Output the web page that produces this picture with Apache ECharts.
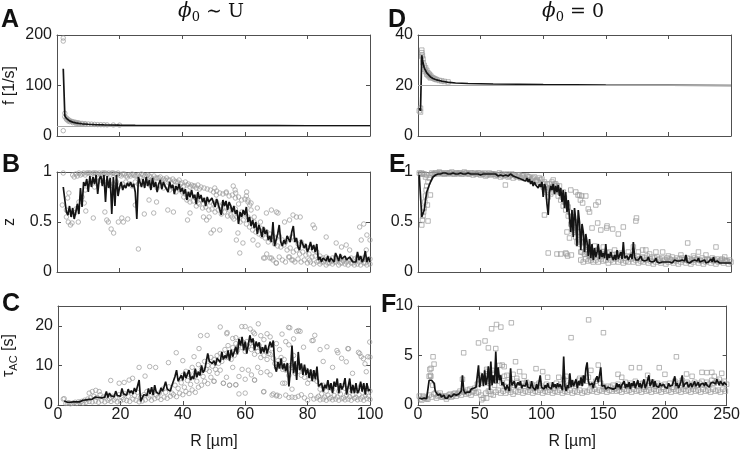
<!DOCTYPE html>
<html><head><meta charset="utf-8">
<script src="https://cdn.jsdelivr.net/npm/echarts/dist/echarts.min.js"></script>
<style>html,body{margin:0;padding:0;background:#fff}#c{width:743px;height:451px}</style>
</head><body><div id="c"></div>
<script>
// ---------------- DATA ----------------
// Panel A: f [1/s] vs R (phi0 ~ U)
const aLine = [[2,133],[2.5,40],[3,35],[3.5,32],[4,30],[5,27.5],[6,26],[7,25],[8,24.2],[10,23.3],[12,22.6],[15,22],[20,21.4],[25,21],[30,20.8],[40,20.6],[50,20.5],[60,20.4],[70,20.4],[80,20.3],[90,20.3],[100,20.3]];
const aScatter = [[2,194],[2,188],[2,10.5],[2.5,45],[2.5,38],[3,36],[3,33],[3.5,33],[3.5,30],[4,31],[4,28.5],[4.5,29],[5,28.5],[5,26.5],[5.5,27.5],[6,27],[6,25],[6.5,26],[7,26],[7,24.5],[8,25],[8,23.5],[9,24.5],[9,23],[10,23.8],[11,23.5],[12,23],[13,22.5],[14,22.4],[15,22.3],[16,22],[18,21.8],[20,21.5]];
// Panel D: f [1/s] vs R (phi0 = 0)
const dLine = [[1,11],[2,10],[3,32],[4,29],[5,27],[6,26],[7,25],[8,24.3],[10,23.4],[12,22.8],[15,22.2],[20,21.6],[25,21.2],[30,21],[40,20.8],[60,20.6],[80,20.5],[100,20.4],[150,20.2],[200,20.1],[250,20]];
const dScatter = [[1,10],[2,9.5],[2,11],[3,34],[3,33],[3,31.5],[3.5,32],[4,30.5],[4,29],[5,28],[5,26.5],[6,27],[6,25.5],[7,26],[7,24.5],[8,25],[8,24],[9,24.5],[9,23.5],[10,24],[10,23],[11,23.3],[12,23],[13,22.7],[14,22.5],[15,22.3],[17,22],[19,21.8],[21,21.6],[24,21.4]];
const fRef = 20;

// Panel B: z vs R, line sampled from R=2 step 0.5
const bLine = [0.85,0.72,0.6,0.57,0.66,0.55,0.64,0.53,0.6,0.68,
0.58,0.84,0.65,0.9,0.86,0.93,0.8,0.96,0.85,0.95,
0.88,0.97,0.78,0.93,0.96,0.86,0.97,0.7,0.96,0.84,
0.94,0.58,0.95,0.66,0.97,0.76,0.85,0.9,0.82,0.87,
0.84,0.89,0.86,0.9,0.85,0.88,0.8,0.53,0.95,0.97,
0.85,0.93,0.84,0.95,0.86,0.92,0.82,0.94,0.85,0.9,
0.8,0.88,0.92,0.83,0.9,0.86,0.88,0.8,0.9,0.84,
0.87,0.78,0.86,0.82,0.88,0.8,0.84,0.78,0.83,0.72,
0.8,0.75,0.82,0.74,0.77,0.68,0.8,0.73,0.77,0.7,
0.74,0.66,0.75,0.7,0.68,0.74,0.72,0.65,0.73,0.68,
0.7,0.57,0.72,0.66,0.71,0.62,0.7,0.66,0.6,0.66,
0.58,0.62,0.48,0.6,0.55,0.62,0.57,0.65,0.5,0.55,
0.46,0.52,0.44,0.5,0.38,0.47,0.42,0.35,0.45,0.38,
0.42,0.32,0.36,0.3,0.5,0.26,0.27,0.38,0.47,0.3,
0.26,0.32,0.28,0.36,0.34,0.3,0.4,0.46,0.3,0.34,
0.25,0.22,0.32,0.3,0.24,0.28,0.2,0.24,0.3,0.22,
0.27,0.2,0.28,0.12,0.15,0.1,0.14,0.12,0.11,0.16,
0.1,0.14,0.12,0.1,0.19,0.15,0.11,0.18,0.13,0.11,
0.16,0.12,0.1,0.15,0.17,0.1,0.12,0.1,0.2,0.12,
0.16,0.1,0.13,0.21,0.1,0.15,0.1];
const bTop = [0.97,0.98,0.99,0.98,0.97,0.99,0.98,0.99,0.98,0.97,
0.99,0.98,0.97,0.99,0.98,0.97,0.98,0.96,0.97,0.98,
0.96,0.97,0.98,0.96,0.97,0.95,0.96,0.94,0.95,0.93,
0.94,0.92,0.93,0.9,0.92,0.89,0.9,0.88,0.87,0.86,
0.87,0.85,0.84,0.83,0.82,0.8,0.81,0.79,0.78,0.79,
0.76,0.77,0.74,0.75,0.72,0.73,0.7,0.69]; // R=5..62
const bTop2 = [0.95,0.96,0.97,0.99,0.99,0.99,0.99,0.99,0.99,0.99,
0.99,0.99,0.99,0.98,0.99,0.96,0.98,0.95,0.96,0.97,
0.96,0.95,0.97,0.96,0.96,0.93,0.94,0.94,0.91,0.92,
0.92,0.89,0.91,0.9,0.88,0.86,0.87,0.85,0.86,0.84,0.83]; // R=5.5..45.5
const bMid = [0.62,0.6,0.58,0.63,0.7,0.75,0.82,0.88,0.9,0.85,
0.9,0.92,0.88,0.9,0.86,0.88,0.9,0.86,0.88,0.9,
0.88,0.86,0.9,0.88,0.9,0.88,0.9,0.86,0.88,0.84,
0.87,0.84,0.86,0.82,0.84,0.8,0.83,0.8,0.78,0.78,
0.76,0.75,0.76,0.72,0.72,0.7,0.7,0.68,0.7,0.66,
0.68,0.65,0.66,0.62,0.63,0.58,0.6,0.58,0.55,0.52,
0.5,0.46,0.44,0.42,0.4,0.38,0.36,0.34,0.36,0.32,
0.3,0.33,0.35,0.32,0.28,0.3,0.26,0.24,0.25,0.22,
0.2,0.16,0.14,0.15,0.13,0.14,0.15,0.13,0.14,0.13,
0.12,0.14,0.13,0.15,0.13,0.14,0.12,0.13]; // R=3..100
const bMid2 = [0.75,0.72,0.7,0.71,0.66,0.68,0.64,0.65,0.62,0.63,
0.6,0.62,0.58,0.6,0.56,0.57,0.53,0.55,0.5,0.52,
0.48,0.45,0.42,0.4,0.38,0.36,0.34,0.3,0.32,0.28,
0.26,0.25,0.27,0.22,0.24,0.2,0.22,0.18,0.2,0.17,
0.18,0.15,0.16,0.11,0.1,0.12,0.09,0.11,0.1,0.12,
0.09,0.11,0.1,0.12,0.09,0.11,0.1,0.12,0.09,0.11]; // R=40.5..99.5
const bBottom = [0.14,0.18,0.14,0.12,0.09,0.15,0.12,0.1,0.15,0.12,
0.1,0.13,0.1,0.12,0.09,0.1,0.08,0.1,0.08,0.1,
0.07,0.09,0.08,0.1,0.07,0.09,0.08,0.07,0.09,0.07,
0.08,0.07,0.09,0.07,0.08]; // R=66..100
const bOut = [[2,0.99],[1.7,0.67],[3.8,0.79],[3.4,0.74],[3,0.55],[3.6,0.5],[4.3,0.47],[4.8,0.49],[6.8,0.5],[5.7,0.59],[8.7,0.69],[9.2,0.61],[11.6,0.54],[15.3,0.6],[15.9,0.52],[16.4,0.5],[17.3,0.43],[18.1,0.39],[19.6,0.5],[20.7,0.54],[21.2,0.5],[22.6,0.53],[25,0.67],[26,0.23],[27.9,0.58],[29.4,0.72],[30.9,0.59],[31.8,0.7],[35.4,0.62],[37.2,0.6],[41.7,0.52],[42.5,0.59],[45.2,0.69],[46.8,0.55],[47.8,0.52],[48.6,0.55],[49.2,0.39],[50,0.42],[50.4,0.84],[50.9,0.77],[52,0.42],[52.5,0.62],[54.1,0.8],[57.1,0.79],[60.5,0.76],[61,0.72],[61.6,0.67],[57.8,0.39],[57.3,0.32],[59.4,0.29],[58.4,0.19],[62.6,0.32],[64.2,0.27],[66.9,0.59],[68.5,0.62],[70.1,0.6],[70.6,0.59],[72.7,0.5],[74.3,0.52],[75.4,0.57],[76.5,0.55],[77.7,0.55],[81.8,0.47],[82.3,0.44],[86,0.35],[66.4,0.14],[68.5,0.14],[70.1,0.09],[74.3,0.15],[75.4,0.12],[80.7,0.12],[89.2,0.29],[90.9,0.25],[92.4,0.27],[93.5,0.22],[96.7,0.45],[97.2,0.32],[98.8,0.22],[98,0.48],[99,0.37],[100,0.32],[55,0.62],[56,0.55],[63,0.55],[65,0.5],[64,0.64],[58,0.68],[62,0.62],[56.3,0.86],[56.9,0.82],[60.6,0.8]];

// Panel C: tau_AC [s] vs R, line sampled from R=2 step 0.5
const cLine = [1.0,0.6,0.7,0.6,0.7,0.7,0.8,0.7,0.8,0.9,
0.8,1.0,1.2,1.4,1.3,1.5,1.4,1.7,1.5,1.6,
2.0,1.6,1.9,2.4,1.8,2.2,2.0,3.4,1.9,3.0,
2.3,2.8,2.1,3.5,2.4,2.9,2.2,4.2,2.8,3.2,
2.5,4.0,3.0,3.6,2.8,4.3,3.3,3.8,6.3,0.9,
1.8,2.6,3.0,2.4,4.2,2.8,4.5,2.5,5.0,3.2,
3.6,2.8,4.3,3.5,4.6,5.9,4.0,4.3,3.5,4.9,
4.5,7.2,8.8,6.0,5.5,7.5,6.2,8.4,6.8,7.0,
8.8,6.3,7.2,6.6,9.2,7.0,8.4,7.5,10.0,8.2,
8.8,10.9,13.0,11.0,10.6,10.5,11.2,10.0,11.8,12.2,
10.8,13.4,11.5,12.5,11.8,13.8,11.2,14.0,12.2,13.5,
14.7,12.8,16.7,15.0,17.2,13.8,16.0,13.0,15.2,17.6,
15.8,16.8,13.8,16.0,14.8,15.8,13.0,14.6,13.3,15.2,
13.0,14.5,16.0,14.6,16.3,9.7,8.4,10.9,9.2,11.8,
9.0,10.5,8.5,10.6,4.7,8.8,15.0,8.0,11.0,6.3,
13.4,8.8,10.5,7.6,10.2,7.6,9.2,6.8,9.0,6.0,
8.8,6.5,9.7,4.7,4.2,5.5,3.4,5.1,4.2,6.3,
3.8,5.5,3.0,5.9,4.6,6.7,3.0,5.5,3.9,5.0,
6.8,2.6,4.6,6.7,3.0,5.1,3.0,5.5,3.0,3.8,
5.9,3.4,5.5,2.6,5.5,3.5,4.0];
const cLow = [1.6,0.5,0.3,0.5,0.4,0.6,0.5,0.7,0.9,0.8,
1.0,0.7,1.1,0.8,1.2,0.9,1.3,0.8,1.0,1.4,
1.1,0.9,1.5,1.2,0.8,1.0,1.3,1.8,1.2,1.6,
1.9,1.4,2.0,1.7,2.2,2.6,2.1,3.0,2.6,3.4,
2.9,3.8,3.2,4.5,5.0,6.0,5.4,7.0,6.0,8.0,
8.8,5.5,7.0,5.0,9.5,5.1,7.2,9.0,6.5,8.8,
7.6,6.3,9.5,8.2,3.4,8.4,7.6,2.8,2.3,2.2,
5.5,2.5,1.9,2.0,1.9,2.2,2.6,1.8,1.2,2.4,
1.5,1.8,1.3,1.5,1.2,1.6,1.3,1.5,1.2,1.6,
1.3,1.5,1.2,1.7,1.3,1.5,1.2,1.6,1.4]; // R=2..100
const cLow2 = [0.4,0.6,0.4,0.7,0.8,0.9,1.2,1.5,1.8,2.2,
1.9,2.6,2.0,2.4,1.6,2.2,1.8,2.6,1.9,2.8,
2.2,3.0,2.4,3.2,1.9,2.6,3.4,2.3,3.8,2.5,
3.0,4.0,3.2,4.6,3.0,5.0,4.2,5.6,4.5,6.2,
5.2,7.0,6.0,8.0,7.2,9.0,8.5,9.8,9.0,10.5,
11.0,14.0,15.0,11.5,12.5,13.8,16.5,15.8,16.0,15.5,
15.8,14.5,15.0,14.0,13.8,13.0,14.2,10.5,11.2,12.0,
11.5,9.8,10.0,12.5,10.5,9.8,9.0,8.8,6.5,7.2,
8.0,2.2,2.8,2.0,2.5,1.9,2.4,2.0,2.8,1.8,
2.6,2.1,2.5,1.9,2.6,2.0,2.4,2.2]; // R=2.5..99.5
const cMid = [7.5,8.5,7.8,9.5,8.2,10.2,9.0,11.0,10.0,12.0,
11.5,12.5,13.0,12.8,12.0,13.2,14.5,15.5,15.0,14.5,
13.5,14.8,14.0,12.8,13.5,12.0,12.5,11.5,12.8,11.8,
9.5,10.0,9.0,8.8,7.5,9.5,8.0,8.5,7.5,7.0,
7.8,8.2,6.5,6.0,4.0,5.0,3.5,4.5,4.0,5.2,
3.5,4.8,4.2,3.8,4.5,4.0,3.6,4.8,3.8,4.2,3.5]; // R=40..100
const cOut = [[52,19.7],[54.1,18],[58.9,19.8],[60,19.8],[64.2,20.5],[62.6,18.4],[61.6,19.2],[74.3,19.5],[76.5,18.6],[77.6,18.6],[82.3,17.6],[81.8,16.3],[86.2,14.7],[92.9,14.25],[89.7,13.2],[96.7,13],[99.3,12.2],[99.9,15.9],[90.9,11.8],[92.4,10.9],[94.4,8],[98.8,8.4],[97.2,12.2],[47.8,17.6],[45.2,14.25],[45.7,17.5],[54.2,18.3],[37.9,13.2],[35.4,10.7],[43.6,12.2],[40,11.2],[29.4,9.7],[31.3,9.5],[26,9.5],[27.9,7.3],[19.6,5.5],[21.2,5.7],[22.8,6.3],[23.9,6.75],[16.9,6.2],[10,3],[11,3.4],[12.1,3.7],[13.2,3.4],[1.7,1.5],[73.9,19.6],[77.1,18.8],[71.8,17.9],[75.5,16.7],[78.7,14.6],[81.4,16.25],[89.4,13.75],[93.1,14.2],[96.3,13.3],[97.9,11.7],[98.4,10.4],[100,12.1],[65.9,3.3],[68.6,2.5],[70.2,2.5],[56,16.8],[57,17.0],[63,18.0],[65,17.5],[66,16.5],[67,18.0],[68,17.2],[70,15.5],[71,14.0],[73,16.0],[74,15.2],[84,14.0],[85,11.0],[88,9.5],[50,6.0],[53,5.5],[55,5.0],[57,5.1],[63,6.3],[72.7,5.5],[60,3.0],[58,2.8],[75,4.0],[80,5.5]];

// Panel E: z vs R, line sampled from R=1 step 1
const eLine = [0.97,0.95,0.55,0.53,0.62,0.72,0.8,0.78,0.87,0.9,
0.92,0.95,0.96,0.97,0.98,0.98,0.99,0.98,0.98,0.99,
0.98,0.99,0.98,0.98,0.99,0.98,0.98,0.99,0.98,0.98,
0.99,0.98,0.98,0.99,0.98,0.98,0.99,0.98,0.98,0.99,
0.98,0.98,0.99,0.98,0.97,0.98,0.99,0.98,0.98,0.97,
0.98,0.98,0.97,0.98,0.99,0.98,0.97,0.98,0.97,0.98,
0.97,0.98,0.97,0.96,0.98,0.97,0.97,0.96,0.98,0.97,
0.97,0.96,0.97,0.98,0.96,0.96,0.97,0.95,0.96,0.94,
0.96,0.93,0.95,0.92,0.94,0.91,0.94,0.9,0.93,0.88,
0.91,0.86,0.9,0.87,0.89,0.84,0.88,0.85,0.9,0.75,
0.88,0.85,0.68,0.57,0.8,0.86,0.82,0.88,0.78,0.86,
0.8,0.87,0.76,0.84,0.7,0.82,0.64,0.8,0.6,0.72,
0.54,0.4,0.62,0.35,0.64,0.52,0.26,0.62,0.5,0.22,
0.48,0.4,0.2,0.38,0.3,0.16,0.33,0.14,0.28,0.12,
0.24,0.15,0.2,0.28,0.13,0.22,0.15,0.19,0.14,0.28,
0.12,0.18,0.14,0.2,0.15,0.12,0.17,0.12,0.22,0.13,
0.15,0.2,0.13,0.3,0.14,0.12,0.16,0.12,0.14,0.18,
0.13,0.3,0.15,0.12,0.14,0.12,0.13,0.16,0.12,0.14,
0.11,0.13,0.12,0.15,0.11,0.13,0.1,0.12,0.11,0.14,
0.1,0.12,0.09,0.11,0.1,0.12,0.1,0.11,0.1,0.12,
0.1,0.11,0.09,0.1,0.12,0.1,0.11,0.09,0.11,0.1,
0.12,0.1,0.11,0.17,0.1,0.11,0.09,0.1,0.11,0.1,
0.12,0.1,0.11,0.14,0.1,0.09,0.11,0.1,0.12,0.09,
0.11,0.1,0.12,0.13,0.1,0.15,0.1,0.09,0.11,0.1,
0.09,0.1,0.09,0.1,0.09,0.1,0.09,0.08,0.09,0.09];
const eTop = [0.97,0.98,0.99,0.98,0.99,0.98,0.99,0.98,0.99,0.98,
0.99,0.98,0.99,0.98,0.99,0.98,0.99,0.97,0.98,0.99,
0.97,0.98,0.96,0.98,0.97,0.98,0.96,0.97,0.95,0.96,
0.97,0.95,0.97,0.94,0.96,0.97,0.94,0.96,0.93,0.95,
0.92,0.94,0.91,0.9,0.92,0.88]; // R=10..100 step 2
const eTop2 = [0.99,0.98,0.99,1.0,0.99,0.98,0.99,0.99,1.0,0.98,
0.99,0.99,0.98,1.0,0.99,0.98,0.99,0.99,0.98,0.99,
0.98,0.99,0.97,0.99,0.98,0.98,0.97,0.99,0.98,0.97,
0.98,0.96,0.98,0.97,0.95,0.97,0.96,0.94,0.96,0.95,
0.93,0.95,0.92,0.94,0.93]; // R=11..99 step 2
const eBottom = [0.12,0.1,0.13,0.11,0.12,0.1,0.12,0.1,0.13,0.11,
0.12,0.09,0.12,0.1,0.13,0.1,0.12,0.09,0.11,0.1,
0.13,0.1,0.12,0.09,0.11,0.1,0.12,0.09,0.11,0.08,
0.1,0.12,0.09,0.11,0.08,0.1,0.12,0.09,0.11,0.08,
0.1,0.12,0.09,0.11,0.08,0.1,0.12,0.09,0.11,0.08,
0.1,0.12,0.09,0.11,0.08,0.1,0.12,0.09,0.11,0.08,0.1]; // R=130..250 step 2
const eBottom2 = [0.2,0.18,0.22,0.16,0.19,0.17,0.21,0.15,0.18,0.16,
0.19,0.15,0.17,0.14,0.18,0.15,0.17,0.14,0.16,0.15,
0.17,0.14,0.16,0.13,0.15,0.14,0.16,0.13,0.15,0.14,
0.15,0.13,0.14,0.12,0.14,0.13,0.15,0.12,0.14,0.13,
0.14,0.12,0.14,0.13,0.12,0.14,0.13,0.12,0.14,0.12,
0.13,0.12,0.14,0.12,0.13,0.11,0.13,0.12,0.11,0.12]; // R=131..249 step 2
const eOut = [[1,0.99],[2,0.98],[3,0.47],[3.5,0.52],[4,0.56],[4.5,0.6],[5,0.64],[5.5,0.7],[6,0.76],[6.5,0.82],[7,0.86],[7.5,0.67],[8,0.51],[8,0.9],[9,0.94],[9.9,0.77],[6,0.95],[7,0.97],[5,0.98],[3,0.99],[4,0.98],[69.8,0.87],
[101,0.57],[102,0.85],[103,0.82],[104,0.19],[105,0.88],[106,0.84],[107,0.9],[108,0.92],[109,0.86],[110,0.88],[111,0.18],[112,0.82],[113,0.86],[114,0.18],[115,0.75],[116,0.8],[117,0.7],[118,0.19],[118.5,0.18],[119,0.4],[119.5,0.16],[120,0.65],[121,0.34],[122,0.82],[122.5,0.17],[123,0.5],[124,0.42],[125,0.44],[126,0.8],[127,0.3],[127.8,0.77],[128,0.32],[129,0.77],[129.7,0.72],[130,0.2],[130.8,0.76],[131.5,0.69],[132,0.3],[133,0.18],[134,0.76],[135,0.25],[136,0.63],[137,0.6],[138,0.16],[139,0.44],[140,0.2],[142,0.67],[143.5,0.49],[144,0.7],[146,0.42],[147,0.2],[149,0.18],[150.7,0.44],[151,0.46],[155.5,0.43],[160,0.38],[164,0.45],[174,0.51],[174.5,0.54],[179.4,0.22],[182,0.22],[190,0.2],[195.4,0.2],[215.4,0.29],[224,0.2],[238,0.25],
[100,0.85],[101,0.9],[102,0.8],[103,0.88],[104,0.75],[105,0.84],[106,0.78],[107,0.85],[108,0.8],[109,0.88],[110,0.82],[111,0.86],[112,0.76],[113,0.8],[114,0.72],[115,0.78],[116,0.66],[117,0.74],[118,0.62],[119,0.68],[120,0.56],[121,0.6],[122,0.48],[123,0.55],[124,0.4],[125,0.5],[126,0.35],[127,0.45],[128,0.28],[129,0.4],[130,0.3],[131,0.35],[132,0.24],[133,0.3],[134,0.22],[135,0.2],[136,0.18],[137,0.16],[138,0.2],[139,0.14],[140,0.16],
[141,0.26],[143,0.22],[145,0.2],[148,0.25],[153,0.2],[157,0.22],[162,0.19],[168,0.2],[172,0.25],[176,0.2],[185,0.18],[200,0.16],[210,0.17],[220,0.16],[230,0.17],[245,0.15]];

// Panel F: tau_AC [s] vs R, line sampled from R=1 step 1
const fLine = [0.7,0.75,0.6,0.8,0.7,0.55,0.65,0.5,2.5,2.6,
2.5,2.3,2.2,1.4,1.2,1.0,0.9,1.1,0.8,0.9,
1.0,0.7,0.8,0.7,1.0,0.9,0.8,1.0,1.1,0.9,
1.0,1.2,1.1,1.3,1.4,3.0,1.5,1.2,1.4,1.3,
1.5,1.3,1.6,1.4,1.7,1.5,1.8,1.9,4.0,1.8,
2.6,3.2,1.9,3.5,2.0,2.7,3.9,1.5,4.4,2.0,
3.0,2.2,5.4,2.2,3.8,2.5,3.0,2.0,2.3,1.8,
1.5,2.0,1.8,1.4,3.7,2.0,1.9,2.4,1.7,2.0,
2.3,2.0,2.4,1.7,2.0,2.2,1.9,2.5,1.8,2.0,
1.7,2.4,1.8,2.0,1.5,2.1,1.6,2.3,3.0,1.8,
1.9,1.6,2.0,1.7,2.2,1.8,2.0,1.6,2.3,1.8,
2.1,1.7,2.2,1.8,2.1,1.9,1.5,4.9,1.9,1.4,
2.0,1.7,3.2,1.8,2.5,1.9,2.1,2.6,1.7,2.4,
2.0,2.8,1.9,3.0,2.2,3.7,4.3,2.4,2.0,1.9,
2.2,1.7,2.3,2.6,2.9,2.3,3.0,3.8,1.9,1.7,
2.0,1.6,1.7,1.8,1.6,1.7,1.9,1.6,1.8,1.7,
2.2,1.8,2.1,1.6,2.0,1.9,2.4,1.7,2.1,1.8,
2.3,1.6,2.2,1.9,2.4,1.7,2.1,2.5,1.8,2.2,
1.7,1.9,2.6,1.7,2.0,1.8,3.0,1.9,2.2,2.6,
1.8,2.4,1.9,2.1,1.8,2.2,1.9,1.7,2.1,1.8,
2.0,1.7,2.2,1.9,1.7,2.0,1.8,2.9,1.9,2.2,
1.7,2.0,2.4,3.0,1.8,2.1,1.9,2.3,1.8,2.0,
2.2,1.8,2.1,2.4,1.9,2.0,2.3,1.8,2.1,2.0,
2.2,1.9,2.3,2.0,2.1,1.8,2.2,2.0,2.3,2.5,
2.1,2.6,2.3,2.0,2.4,2.2,2.0,2.3,2.1,2.0];
const fBand1 = [0.9,0.5,0.8,0.6,1.0,0.8,1.1,0.7,1.0,0.8,
0.9,0.6,1.0,0.8,1.1,0.9,1.2,1.0,1.3,1.1,
1.2,1.0,1.4,1.2,1.3,1.0,0.7,1.2,1.4,1.1,
1.0,1.3,1.5,1.2,1.4,1.2,1.5,1.3,1.1,1.4,
1.3,1.5,1.2,1.4,1.3,1.5,1.2,1.4,1.3,1.5,
1.2,1.4,1.3,1.5,1.2,1.4,1.3,1.5,1.2,1.4,
1.3,1.5,1.2,1.4,1.3,1.5,1.2,1.4,1.3,1.5,
1.4,1.6,1.3,1.5,1.4,1.6,1.3,1.5,1.4,1.6,
1.4,1.5,1.3,1.6,1.4,1.5,1.3,1.6,1.4,1.5,
1.3,1.6,1.4,1.5,1.3,1.6,1.4,1.5,1.3,1.6,
1.4,1.5,1.3,1.6,1.4,1.5,1.3,1.6,1.4,1.5,
1.3,1.6,1.4,1.5,1.3,1.6,1.4,1.5,1.3,1.6,
1.4,1.5,1.3,1.6,1.4]; // R=1..249 step 2
const fBand2 = [0.6,0.9,0.7,0.6,3.0,2.0,1.2,0.9,1.2,0.8,
0.9,0.8,1.1,0.9,1.2,1.1,1.4,2.6,1.3,1.5,
1.6,1.3,1.7,2.1,2.2,2.8,2.6,2.4,2.2,2.5,
2.0,2.4,2.8,2.2,1.9,2.3,1.7,2.2,2.0,2.4,
1.8,2.2,1.9,2.3,1.8,2.1,1.7,2.0,2.2,1.9,
1.7,2.1,1.8,2.0,1.7,2.2,1.9,2.1,2.6,1.8,
2.0,2.3,2.1,1.9,2.5,2.2,2.7,2.4,2.8,2.1,
2.0,2.4,2.6,2.2,1.9,1.7,1.9,1.8,2.0,1.7,
2.1,1.8,2.0,2.3,1.9,2.2,2.0,2.4,1.9,2.1,
2.2,1.8,2.4,2.0,2.3,1.9,2.2,2.0,1.8,2.1,
1.9,2.2,1.8,2.4,2.0,2.2,2.5,1.9,2.3,2.1,
1.9,2.3,2.0,2.2,2.4,2.0,2.3,2.1,2.5,2.2,
2.4,2.6,2.2,2.4,2.1]; // R=2..250 step 2
const fOut = [[12.2,4.87],[13,4.13],[9.6,3.6],[10.6,3.7],[9,2.9],[10.4,2.9],[37,5.27],[49,6.27],[54.3,6.47],[57,5.77],[59.6,7.7],[63.6,8.13],[67.1,7.87],[75.6,8.3],[138.2,8.6],[124,6.8],[150.2,7.3],[55.6,3.6],[68.2,4.03],[69.8,3.87],[79,4.37],[82.3,3.37],[95.6,3.67],[101,3.37],[114,2.8],[146,4.03],[162,3.1],[172.8,3.77],[179.4,3.77],[195.4,3.77],[209.3,4.87],[217.5,3.13],[230,3.3],[234,3.27],[246,3.2],[51.6,0.53],[55.6,0.7],[58.3,1.37],[63,5.7],[66,4.0],[60,3.5],[72,3.0],[86,2.9],[105,2.8],[120,2.9],[131,2.7],[140,3.5],[165,2.8],[186,3.0],[200,3.1],[222,2.9],[240,2.9],[238,3.3],[50,3.0],[53,2.7],[56,3.4],[61,3.2],[64,2.8],[70,2.9],[77,3.1],[80,2.7]];

// ---------------- BUILD ----------------
const pts = (x0, dx, ys) => ys.map((y, i) => [x0 + i * dx, y]);
const FONT = 'Liberation Sans, Arial, sans-serif';
const AX = '#505050', TXT = '#1a1a1a';
const FS = 16;

const panels = [
  {grid:{left:57,top:35,width:313,height:101}, xMax:100,xInt:20,yMax:200,yInt:100,xLab:false,yName:'f [1/s]',
   line:aLine, scatter:aScatter, sym:'circle', ref:fRef},
  {grid:{left:57,top:172,width:313,height:100}, xMax:100,xInt:20,yMax:1,yInt:0.5,xLab:false,yName:'z',
   line:pts(2,0.5,bLine), scatter:[].concat(pts(5,1,bTop),pts(5.5,1,bTop2),pts(3,1,bMid),pts(40.5,1,bMid2),pts(66,1,bBottom),bOut), sym:'circle'},
  {grid:{left:57,top:306,width:313,height:100}, xMax:100,xInt:20,yMax:25,yInt:10,xLab:true,yName:'{t|τ}{s|AC}{t| [s]}',
   line:pts(2,0.5,cLine), scatter:[].concat(pts(2,1,cLow),pts(2.5,1,cLow2),pts(40,1,cMid),cOut), sym:'circle'},
  {grid:{left:418,top:35,width:313,height:101}, xMax:250,xInt:50,yMax:40,yInt:20,xLab:false,yName:'',
   line:dLine, scatter:dScatter, sym:'rect', ref:fRef},
  {grid:{left:418,top:172,width:313,height:100}, xMax:250,xInt:50,yMax:1,yInt:0.5,xLab:false,yName:'',
   line:pts(1,1,eLine), scatter:[].concat(pts(10,2,eTop),pts(11,2,eTop2),pts(130,2,eBottom),pts(131,2,eBottom2),eOut), sym:'rect'},
  {grid:{left:418,top:306,width:313,height:100}, xMax:250,xInt:50,yMax:10,yInt:5,xLab:true,yName:'',
   line:pts(1,1,fLine), scatter:[].concat(pts(1,2,fBand1),pts(2,2,fBand2),fOut), sym:'rect'}
];

const grids=[], xAxis=[], yAxis=[], series=[];
const lineSt = {color:AX, width:1};
const tickSt = {show:true, inside:true, length:4, lineStyle:{color:AX, width:1}};
panels.forEach((p, i) => {
  grids.push(p.grid);
  const xb = xAxis.length, yb = yAxis.length;
  xAxis.push({gridIndex:i, type:'value', position:'bottom', min:0, max:p.xMax, interval:p.xInt,
    axisLine:{show:true, onZero:false, lineStyle:lineSt}, axisTick:tickSt, splitLine:{show:false},
    axisLabel:{show:p.xLab, margin:2, color:TXT, fontSize:FS, fontFamily:FONT},
    name:p.xLab ? 'R [µm]' : '', nameLocation:'middle', nameGap:29,
    nameTextStyle:{color:TXT, fontSize:FS, fontFamily:FONT}});
  xAxis.push({gridIndex:i, type:'value', position:'top', min:0, max:p.xMax, interval:p.xInt,
    axisLine:{show:true, onZero:false, lineStyle:lineSt}, axisTick:tickSt, splitLine:{show:false}, axisLabel:{show:false}});
  yAxis.push({gridIndex:i, type:'value', position:'left', min:0, max:p.yMax, interval:p.yInt,
    axisLine:{show:true, onZero:false, lineStyle:lineSt}, axisTick:tickSt, splitLine:{show:false},
    axisLabel:{margin:5, color:TXT, fontSize:FS, fontFamily:FONT,
      formatter:v => (Math.abs(v / p.yInt - Math.round(v / p.yInt)) < 1e-6) ? String(v) : ''},
    name:p.yName, nameLocation:'middle', nameRotate:90, nameGap:39,
    nameTextStyle:{color:TXT, fontSize:FS, fontFamily:FONT,
      rich:{t:{fontSize:FS, fontFamily:FONT, color:TXT, lineHeight:20},
            s:{fontSize:11, fontFamily:FONT, color:TXT, lineHeight:12, verticalAlign:'bottom'}}}});
  yAxis.push({gridIndex:i, type:'value', position:'right', min:0, max:p.yMax, interval:p.yInt,
    axisLine:{show:true, onZero:false, lineStyle:lineSt}, axisTick:tickSt, splitLine:{show:false}, axisLabel:{show:false}});
  series.push({type:'scatter', xAxisIndex:xb, yAxisIndex:yb, data:p.scatter, symbol:p.sym, symbolSize:4.5,
    itemStyle:{color:'rgba(255,255,255,0)', borderColor:'#9a9a9a', borderWidth:0.9}, silent:true, z:2});
  const ls = {type:'line', xAxisIndex:xb, yAxisIndex:yb, data:p.line, showSymbol:false, symbol:'none',
    lineStyle:{color:'#141414', width:1.7}, silent:true, z:3};
  if (p.ref !== undefined) {
    ls.markLine = {silent:true, symbol:'none', label:{show:false}, animation:false,
      lineStyle:{color:'#a8a8a8', width:1, type:'solid'}, data:[{yAxis:p.ref}]};
  }
  series.push(ls);
});

const letter = (t, x, y) => ({type:'text', x:x, y:y, style:{text:t, font:'bold 25px "Liberation Sans", Arial, sans-serif', fill:'#111', textVerticalAlign:'top', verticalAlign:'top'}});
const titleRich = {
  p:{fontFamily:'DejaVu Serif', fontStyle:'italic', fontSize:20, lineHeight:24, fill:'#111', color:'#111'},
  s:{fontFamily:'DejaVu Serif', fontSize:13, lineHeight:13, verticalAlign:'bottom', fill:'#111', color:'#111'},
  r:{fontFamily:'DejaVu Serif', fontSize:19, lineHeight:24, fill:'#111', color:'#111'}
};
const title = (t, x) => ({type:'text', x:x, y:0, style:{text:t, rich:titleRich, align:'center', textAlign:'center', verticalAlign:'top', textVerticalAlign:'top'}});

const chart = echarts.init(document.getElementById('c'), null, {renderer:'canvas'});
chart.setOption({
  animation:false,
  backgroundColor:'#fff',
  grid:grids, xAxis:xAxis, yAxis:yAxis, series:series,
  graphic:[
    letter('A',1,8), letter('B',2,153), letter('C',2,292),
    letter('D',388,8), letter('E',389,153), letter('F',381,293),
    title('{p|ϕ}{s|0}{r| ∼ U}', 211),
    title('{p|ϕ}{s|0}{r| = 0}', 573)
  ]
});
</script>
</body></html>
